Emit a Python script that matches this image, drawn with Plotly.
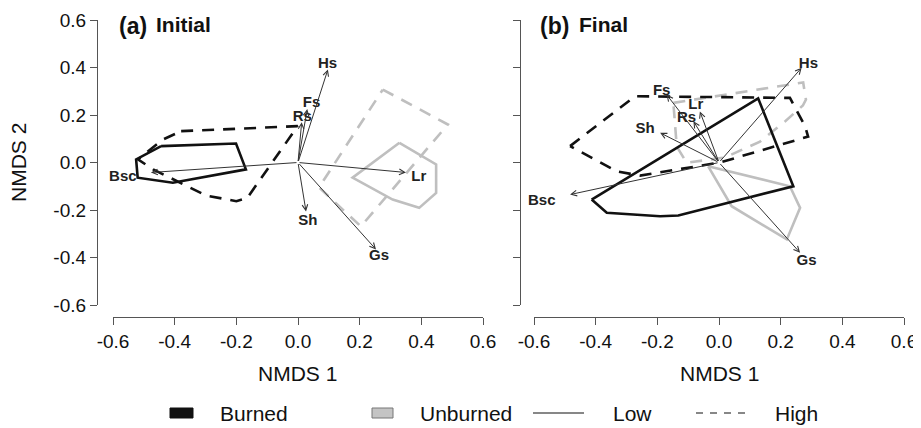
import plotly.graph_objects as go

# page body has an 8px margin: figure is drawn 8px in, so it is sized to fit the window
OFF = 8
W, H = 921 - OFF, 428 - OFF

# ---------------- data: panel (a) Initial ----------------
a_burned_low_x = [-0.444, -0.201, -0.169, -0.406, -0.520, -0.525]
a_burned_low_y = [0.069, 0.080, -0.029, -0.085, -0.064, 0.013]
a_burned_high_x = [-0.379, -0.001, -0.165, -0.200, -0.298, -0.370, -0.470, -0.519, -0.438]
a_burned_high_y = [0.132, 0.153, -0.150, -0.163, -0.139, -0.093, -0.029, 0.013, 0.097]
a_unburned_low_x = [0.329, 0.448, 0.448, 0.393, 0.307, 0.177]
a_unburned_low_y = [0.083, -0.008, -0.128, -0.191, -0.156, -0.064]
a_unburned_high_x = [0.275, 0.486, 0.204, 0.068]
a_unburned_high_y = [0.307, 0.160, -0.269, -0.105]

vec_names = ["Hs", "Fs", "Rs", "Lr", "Bsc", "Sh", "Gs"]
a_vec_x = [0.097, 0.030, 0.012, 0.350, -0.477, 0.026, 0.253]
a_vec_y = [0.392, 0.225, 0.170, -0.042, -0.042, -0.206, -0.366]
a_lab_x = [0.096, 0.044, 0.014, 0.392, -0.568, 0.032, 0.263]
a_lab_y = [0.413, 0.248, 0.190, -0.063, -0.063, -0.248, -0.396]

# ---------------- data: panel (b) Final ----------------
b_burned_low_x = [-0.413, 0.127, 0.241, -0.132, -0.191, -0.299, -0.364]
b_burned_low_y = [-0.156, 0.270, -0.100, -0.223, -0.226, -0.219, -0.212]
b_burned_high_x = [-0.483, -0.272, 0.230, 0.279, 0.289, 0.003, -0.256, -0.332]
b_burned_high_y = [0.069, 0.279, 0.272, 0.153, 0.109, 0.000, -0.055, -0.037]
b_unburned_low_x = [-0.035, 0.230, 0.263, 0.220, 0.041]
b_unburned_low_y = [-0.016, -0.100, -0.191, -0.324, -0.184]
b_unburned_high_x = [-0.148, 0.273, 0.282, 0.272, 0.214, 0.133, 0.019, -0.105, -0.137]
b_unburned_high_y = [0.251, 0.337, 0.265, 0.240, 0.173, 0.088, 0.021, -0.001, 0.067]

b_vec_x = [0.268, -0.170, -0.083, -0.062, -0.483, -0.191, 0.263]
b_vec_y = [0.399, 0.286, 0.174, 0.215, -0.135, 0.125, -0.380]
b_lab_x = [0.290, -0.186, -0.105, -0.075, -0.575, -0.240, 0.284]
b_lab_y = [0.415, 0.300, 0.186, 0.240, -0.163, 0.139, -0.416]

tick_vals = [-0.6, -0.4, -0.2, 0.0, 0.2, 0.4, 0.6]
tick_text = ["-0.6", "-0.4", "-0.2", "0.0", "0.2", "0.4", "0.6"]

panel_titles = [("(a)", "Initial"), ("(b)", "Final")]
x_title = "NMDS 1"
y_title = "NMDS 2"
legend_labels = ["Burned", "Unburned", "Low", "High"]

# ---------------- styling ----------------
FONT = "Liberation Sans, Arial, sans-serif"
BLACK = "#111111"
GREY = "#bfbfbf"
DASH = "12px,9px"


def px(x):
    return (x - OFF) / W


def py(y):
    return 1 - (y - OFF) / H


def closed(xs, ys):
    return list(xs) + [xs[0]], list(ys) + [ys[0]]


fig = go.Figure()
annotations = []

panels = [
    dict(xr="x", yr="y",
         polys=[(a_unburned_high_x, a_unburned_high_y, GREY, DASH),
                (a_unburned_low_x, a_unburned_low_y, GREY, "solid"),
                (a_burned_high_x, a_burned_high_y, BLACK, DASH),
                (a_burned_low_x, a_burned_low_y, BLACK, "solid")],
         vx=a_vec_x, vy=a_vec_y, lx=a_lab_x, ly=a_lab_y),
    dict(xr="x2", yr="y2",
         polys=[(b_unburned_high_x, b_unburned_high_y, GREY, DASH),
                (b_unburned_low_x, b_unburned_low_y, GREY, "solid"),
                (b_burned_high_x, b_burned_high_y, BLACK, DASH),
                (b_burned_low_x, b_burned_low_y, BLACK, "solid")],
         vx=b_vec_x, vy=b_vec_y, lx=b_lab_x, ly=b_lab_y),
]

for p in panels:
    for xs, ys, col, dash in p["polys"]:
        cx, cy = closed(xs, ys)
        fig.add_trace(go.Scatter(x=cx, y=cy, mode="lines", xaxis=p["xr"], yaxis=p["yr"],
                                 line=dict(color=col, width=2.6, dash=dash),
                                 showlegend=False, hoverinfo="skip"))
    for tx, ty in zip(p["vx"], p["vy"]):
        annotations.append(dict(x=tx, y=ty, ax=0, ay=0, xref=p["xr"], yref=p["yr"],
                                axref=p["xr"], ayref=p["yr"], text="", showarrow=True,
                                arrowhead=5, arrowsize=1.1, arrowwidth=1,
                                arrowcolor="#333333"))
    fig.add_trace(go.Scatter(x=p["lx"], y=p["ly"], mode="text", text=[f"<b>{n}</b>" for n in vec_names],
                             xaxis=p["xr"], yaxis=p["yr"], cliponaxis=False,
                             textfont=dict(family=FONT, size=15, color="#222222"),
                             showlegend=False, hoverinfo="skip"))

axis_common = dict(range=[-0.6, 0.6], tickvals=tick_vals, ticktext=tick_text,
                   ticks="outside", ticklen=7, tickwidth=1.2, tickcolor="#555555",
                   showline=True, linecolor="#555555", linewidth=1.2,
                   showgrid=False, zeroline=False, anchor="free", automargin=False,
                   tickfont=dict(family=FONT, size=19, color="#111111"))

ydom = [py(305), py(20)]
fig.update_layout(
    width=W, height=H, margin=dict(l=0, r=0, t=0, b=0, pad=0, autoexpand=False),
    paper_bgcolor="white", plot_bgcolor="white", showlegend=False,
    xaxis=dict(domain=[px(113), px(483)], position=py(317), **axis_common),
    yaxis=dict(domain=ydom, position=px(97), **axis_common),
    xaxis2=dict(domain=[px(534), px(904)], position=py(317), **axis_common),
    yaxis2=dict(domain=ydom, position=px(520), showticklabels=False, **axis_common),
)

# axis titles
annotations.append(dict(text=y_title, x=px(18), y=py(163), xref="paper", yref="paper",
                        showarrow=False, textangle=-90, xanchor="center", yanchor="middle",
                        font=dict(family=FONT, size=21, color="#111111")))
for cx in (297, 719):
    annotations.append(dict(text=x_title, x=px(cx), y=py(373), xref="paper", yref="paper",
                            showarrow=False, xanchor="center", yanchor="middle",
                            font=dict(family=FONT, size=21, color="#111111")))

# panel titles
for (lab, name), lx, nx in zip(panel_titles, (117, 538), (154, 577)):
    annotations.append(dict(text=f"<b>{lab}</b>", x=px(lx), y=py(26), xref="paper", yref="paper",
                            showarrow=False, xanchor="left", yanchor="middle",
                            font=dict(family=FONT, size=23, color="#111111")))
    annotations.append(dict(text=f"<b>{name}</b>", x=px(nx), y=py(25), xref="paper", yref="paper",
                            showarrow=False, xanchor="left", yanchor="middle",
                            font=dict(family=FONT, size=21, color="#111111")))

# legend
LY = 413
shapes = [
    dict(type="rect", xref="paper", yref="paper", x0=px(170), x1=px(193), y0=py(418), y1=py(408),
         fillcolor=BLACK, line=dict(color=BLACK, width=1)),
    dict(type="rect", xref="paper", yref="paper", x0=px(372), x1=px(393), y0=py(418), y1=py(408),
         fillcolor="#c4c4c4", line=dict(color="#777777", width=1)),
    dict(type="line", xref="paper", yref="paper", x0=px(533), x1=px(584), y0=py(LY), y1=py(LY),
         line=dict(color=BLACK, width=1.2)),
    dict(type="line", xref="paper", yref="paper", x0=px(696), x1=px(750), y0=py(LY), y1=py(LY),
         line=dict(color=BLACK, width=1.2, dash="7px,7px")),
]
for lab, lx in zip(legend_labels, (218, 418, 611, 773)):
    annotations.append(dict(text=lab, x=px(lx), y=py(LY), xref="paper", yref="paper",
                            showarrow=False, xanchor="left", yanchor="middle",
                            font=dict(family=FONT, size=21, color="#111111")))

fig.update_layout(annotations=annotations, shapes=shapes)
fig.write_html("out.html")
